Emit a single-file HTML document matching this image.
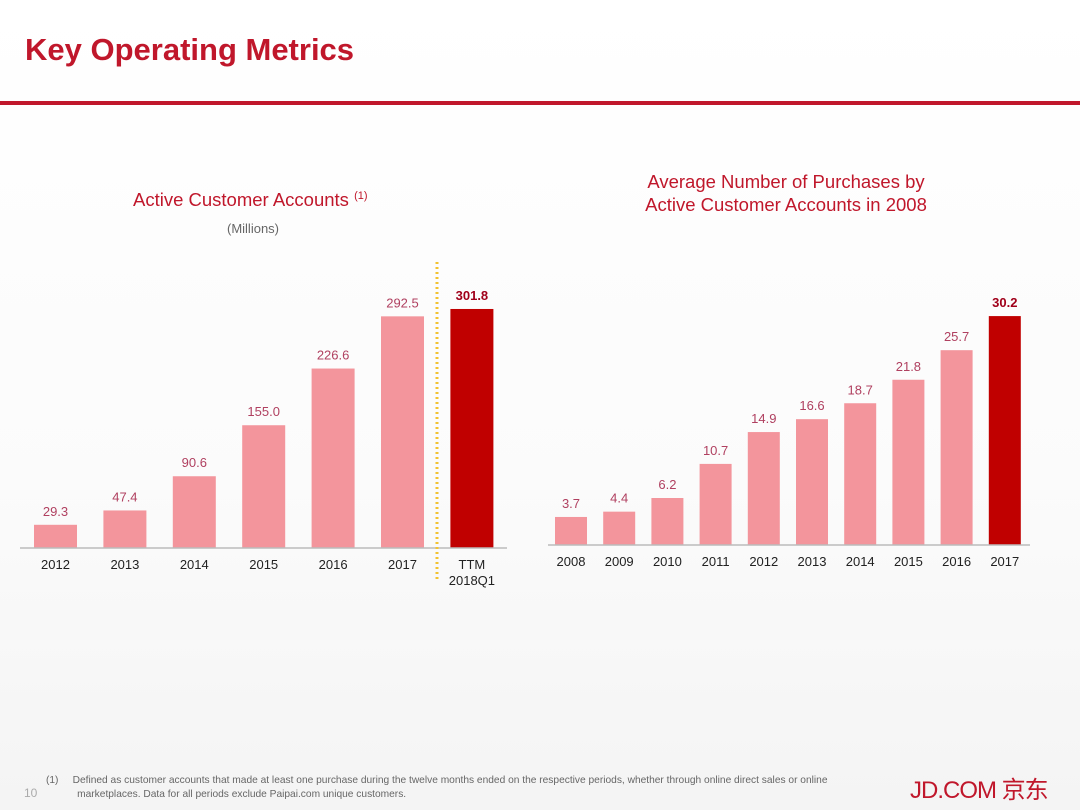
<!DOCTYPE html>
<html><head><meta charset="utf-8"><style>
body{margin:0;width:1080px;height:810px;overflow:hidden;background:linear-gradient(#ffffff 0%,#fbfbfb 60%,#f4f4f4 100%);font-family:"Liberation Sans","Noto Sans CJK SC",sans-serif;position:relative}
.t{position:absolute;white-space:nowrap}
</style></head><body>
<div class="t" style="left:25px;top:32px;font-size:31px;font-weight:bold;color:#c0172b">Key Operating Metrics</div>
<div style="position:absolute;left:0;top:101px;width:1080px;height:4px;background:#c0172b"></div>
<div class="t" style="left:133px;top:189px;font-size:18.5px;color:#c0172b">Active Customer Accounts <sup style="font-size:11px">(1)</sup></div>
<div class="t" style="left:227px;top:221px;font-size:13px;color:#666">(Millions)</div>
<div class="t" style="left:596px;top:170px;width:380px;text-align:center;font-size:18.5px;line-height:23px;color:#c0172b">Average Number of Purchases by<br>Active Customer Accounts in 2008</div>
<svg id="c" width="1080" height="810" style="position:absolute;left:0;top:0"></svg>
<div class="t" style="left:24px;top:786px;font-size:12px;color:#aaa">10</div>
<div class="t" style="left:46px;top:774px;font-size:10.2px;line-height:14px;color:#666">(1)&nbsp;&nbsp;&nbsp;&nbsp;&nbsp;Defined as customer accounts that made at least one purchase during the twelve months ended on the respective periods, whether through online direct sales or online<br>&nbsp;&nbsp;&nbsp;&nbsp;&nbsp;&nbsp;&nbsp;&nbsp;&nbsp;&nbsp;&nbsp;marketplaces. Data for all periods exclude Paipai.com unique customers.</div>
<div class="t" style="left:910px;top:770px;font-size:24px;color:#c0172b;letter-spacing:-1px">JD.COM 京东</div>
<script>
const leftCats=["2012","2013","2014","2015","2016","2017","TTM|2018Q1"];
const leftVals=[29.3,47.4,90.6,155.0,226.6,292.5,301.8];
const leftLabels=["29.3","47.4","90.6","155.0","226.6","292.5","301.8"];
const rightCats=["2008","2009","2010","2011","2012","2013","2014","2015","2016","2017"];
const rightVals=[3.7,4.4,6.2,10.7,14.9,16.6,18.7,21.8,25.7,30.2];
const rightLabels=["3.7","4.4","6.2","10.7","14.9","16.6","18.7","21.8","25.7","30.2"];
const svg=document.getElementById('c');const NS='http://www.w3.org/2000/svg';
function el(t,a){const e=document.createElementNS(NS,t);for(const k in a)e.setAttribute(k,a[k]);svg.appendChild(e);return e;}
function draw(cats,vals,labels,o){
  const x=i=>o.x0+i*o.pitch, y=v=>o.base-v*o.scale;
  cats.forEach((c,i)=>{
    const last=i===cats.length-1;
    const r=el('rect',{x:x(i)-o.bw/2,y:y(vals[i]),width:o.bw,height:o.base-y(vals[i]),fill:last?'#c00000':'#f3959c'});
    
    
    const t=el('text',{x:x(i),y:y(vals[i])-9,'text-anchor':'middle','font-size':13,fill:last?'#a0001a':'#b04060','font-weight':last?'bold':'normal'});
    t.textContent=labels[i];
    
    
    c.split('|').forEach((s,k)=>{const tt=el('text',{x:x(i),y:o.base+21+k*16,'text-anchor':'middle','font-size':13,fill:'#222'});tt.textContent=s;
      
      });
  });
  const a=el('line',{x1:o.ax0,x2:o.ax1,y1:o.base,y2:o.base,stroke:'#bbb','stroke-width':1.5});
  
  
}
draw(leftCats,leftVals,leftLabels,{name:'left',x0:55.5,pitch:69.4,bw:43,base:548,scale:0.792,ax0:20,ax1:507});
draw(rightCats,rightVals,rightLabels,{name:'right',x0:571,pitch:48.2,bw:32,base:545,scale:7.58,ax0:548,ax1:1030});
const d=el('line',{x1:437,x2:437,y1:262,y2:580,stroke:'#f2c230','stroke-width':3,'stroke-dasharray':'2 3'});


</script>
</body></html>
